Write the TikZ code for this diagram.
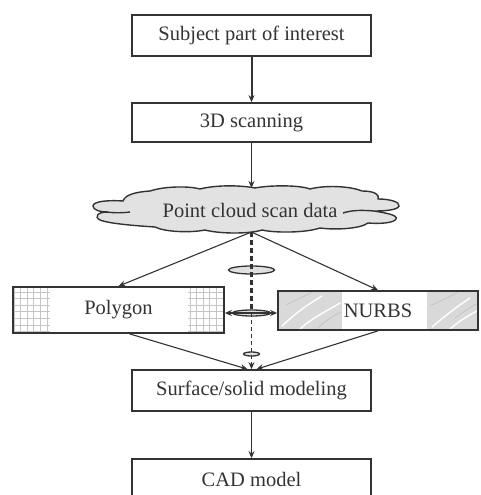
\documentclass[tikz,border=0pt]{standalone}
\usepackage{fontspec}
\setmainfont{Liberation Serif}
\usetikzlibrary{arrows.meta,calc,shapes.geometric}
\definecolor{ink}{HTML}{333333}
\definecolor{cloudfill}{HTML}{E2E2E2}
\definecolor{marble}{HTML}{D9D9D9}
\begin{document}
\begin{tikzpicture}[x=1pt,y=-1pt,
  font=\fontsize{20.5}{24}\selectfont, text=ink,
  box/.style={draw=ink, line width=1.7pt, fill=white, minimum width=239,
    minimum height=41, inner sep=0},
  flatbox/.style={draw=ink, line width=1.7pt, inner sep=0},
  arr/.style={draw=ink, line width=1.1pt, -{Stealth[length=7pt,width=6pt]}},
  lens/.style={ellipse, draw=ink, fill=gray!25, line width=1.3pt, inner sep=0},
  gridline/.style={draw=gray!45, line width=0.8pt},
  vein/.style={draw=white, line width=1.4pt, line cap=round},
  greyvein/.style={draw=gray!50, line width=0.6pt, line cap=round}]
\useasboundingbox (0,0) rectangle (480,495);
\clip (0,0) rectangle (480,495);

% top chain of boxes
\node[box] (sub)  at (251.5,35.5)  {Subject part of interest};
\node[box, minimum height=39] (scan) at (251.5,122.5) {3D scanning};
\draw[arr, line width=2pt] (sub) -- (scan);

% point cloud
\draw[ink, fill=cloudfill, line width=1.4pt]
  (93,206) .. controls (93,201) and (110,200) .. (123,201)
  .. controls (125,195) and (135,192) .. (150,191)
  .. controls (165,186) and (190,186) .. (200,189)
  .. controls (215,185) and (240,185) .. (255,188)
  .. controls (270,185) and (300,185) .. (310,189)
  .. controls (325,185) and (350,186) .. (362,191)
  .. controls (375,191) and (380,195) .. (378,199)
  .. controls (390,199) and (400,202) .. (399,206)
  .. controls (398,210) and (385,211) .. (374,211)
  .. controls (386,213) and (398,215) .. (396,219)
  .. controls (394,223) and (380,224) .. (368,223)
  .. controls (360,229) and (335,230) .. (320,228)
  .. controls (305,233) and (275,233) .. (262,230)
  .. controls (250,234) and (220,234) .. (205,230)
  .. controls (190,233) and (165,232) .. (155,227)
  .. controls (140,226) and (110,224) .. (100,220)
  .. controls (94,217) and (97,212) .. (108,212)
  .. controls (100,212) and (93,210) .. (93,206) -- cycle;
\draw[ink, line width=1.4pt] (106,212) .. controls (115,213) and (122,213) .. (130,212);
\draw[ink, line width=1.4pt] (343,213) .. controls (352,210) and (362,210) .. (374,211);
\node (pc) at (250,210) {Point cloud scan data};
\coordinate (cb) at (251.5,232);
\draw[arr] (scan) -- (251.5,188);

% polygon box with grid ends
\foreach \gx in {14,20.6,...,50} \draw[gridline] (\gx,288) -- (\gx,332);
\foreach \gx in {190,196.6,...,223} \draw[gridline] (\gx,288) -- (\gx,332);
\foreach \gy in {292,298.6,...,332} {
  \draw[gridline] (14,\gy) -- (50,\gy);
  \draw[gridline] (188,\gy) -- (223,\gy);
}
\node[flatbox, minimum width=211, minimum height=46] (poly) at (118.5,310) {Polygon};

% NURBS box with marbled ends
\fill[marble] (278,291) rectangle (478,330);
\fill[white] (342,292) rectangle (427,329);
\draw[vein] (282,326) .. controls (295,314) and (305,306) .. (322,296);
\draw[vein] (300,329) .. controls (312,318) and (325,312) .. (340,303);
\draw[greyvein] (286,305) .. controls (296,300) and (305,296) .. (312,292);
\draw[greyvein] (318,328) .. controls (326,320) and (333,316) .. (341,312);
\draw[vein] (432,327) .. controls (445,316) and (455,308) .. (470,298);
\draw[vein] (450,329) .. controls (458,322) and (466,317) .. (477,311);
\draw[greyvein] (430,306) .. controls (440,301) and (450,297) .. (458,292);
\draw[greyvein] (455,318) .. controls (462,313) and (468,309) .. (476,304);
\node[flatbox, minimum width=200, minimum height=39] (nurbs) at (378,310.5) {NURBS};

\draw[arr] (cb) -- (poly.north);
\draw[arr] (cb) -- (nurbs.north);

% lower chain
\node[box] (surf) at (251.5,390.5) {Surface/solid modeling};
\node[box] (cad)  at (251.5,479.5) {CAD model};
\draw[arr] (surf) -- (cad);

% lenses on the dashed link
\node[lens, minimum width=46, minimum height=8] (e1) at (251.5,270) {};
\node[lens, minimum width=38, minimum height=6] (e2) at (251.5,313) {};
\node[lens, minimum width=16, minimum height=4] (e3) at (251.5,354) {};
\draw[ink, line width=2.2pt, dash pattern=on 5pt off 3pt] (cb) -- (e2.center);
\draw[arr, line width=1.3pt, dash pattern=on 4pt off 3pt] (e2.center) -- (surf.north);
\draw[draw=ink, line width=1.2pt, {Stealth[length=7pt,width=6pt]}-{Stealth[length=7pt,width=6pt]}]
  (e2 -| poly.east) -- (e2 -| nurbs.west);

\draw[arr] ($(poly.south)+(11,0)$) -- ($(surf.north)+(-4,0)$);
\draw[arr] (nurbs.south) -- ($(surf.north)+(5,0)$);
\end{tikzpicture}
\end{document}
